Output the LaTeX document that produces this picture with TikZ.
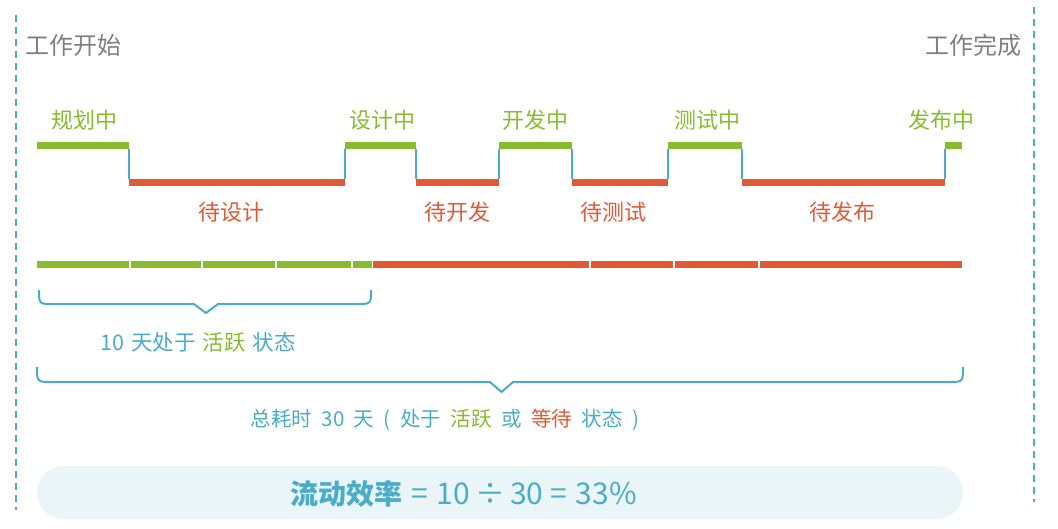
\documentclass[tikz,border=0pt]{standalone}
\usepackage{fontspec}
\setmainfont{Noto Sans CJK SC}
\definecolor{cgreen}{HTML}{86BC2E}
\definecolor{cred}{HTML}{E05A35}
\definecolor{cblue}{HTML}{4AACC8}
\definecolor{cgray}{HTML}{7F7F7F}
\definecolor{cpill}{HTML}{EAF5F8}
\newcommand\gp[1]{\hspace{#1pt}}
\tikzset{
  guide/.style={cblue, line width=2pt, dash pattern=on 7pt off 5pt},
  act/.style={cgreen, line width=7pt},
  wait/.style={cred, line width=7pt},
  edge/.style={cblue, line width=2pt},
  brace/.style={cblue, line width=2pt, line join=round},
  endlbl/.style={font=\fontsize{24}{24}\selectfont, text=cgray, inner sep=0pt},
  actlbl/.style={font=\fontsize{22}{22}\selectfont, text=cgreen, inner sep=0pt},
  waitlbl/.style={font=\fontsize{22}{22}\selectfont, text=cred, inner sep=0pt},
  note/.style={font=\fontsize{20.5}{20.5}\selectfont, text=cblue, inner sep=0pt},
  pill/.style={fill=cpill, rounded corners=26.5pt, minimum width=926pt, minimum height=53pt, inner sep=0pt},
}
\begin{document}
\begin{tikzpicture}[x=1pt,y=-1pt]
\useasboundingbox (0,0) rectangle (1058,528);
% guide lines
\coordinate (gl1) at (16,15); \coordinate (gl2) at (16,510);
\coordinate (gr1) at (1034,7); \coordinate (gr2) at (1034,502);
\draw[guide] (gl1) -- (gl2);
\draw[guide] (gr1) -- (gr2);
\node[endlbl, anchor=west] (start) at (25,45) {工作开始};
\node[endlbl, anchor=east] (finish) at (1022,45) {工作完成};
% signal
\foreach \n/\x in {a/37,b/129,c/345,d/416,e/499,f/572,g/668,h/742,i/945,j/962} {
  \coordinate (\n h) at (\x,145.5);
  \coordinate (\n l) at (\x,182);
}
\draw[act] (ah) -- (bh);
\draw[wait] (bl) -- (cl);
\draw[act] (ch) -- (dh);
\draw[wait] (dl) -- (el);
\draw[act] (eh) -- (fh);
\draw[wait] (fl) -- (gl);
\draw[act] (gh) -- (hh);
\draw[wait] (hl) -- (il);
\draw[act] (ih) -- (jh);
\foreach \n in {b,c,d,e,f,g,h,i} {
  \draw[edge] ([yshift=-3.5pt]\n h) -- ([yshift=3.5pt]\n l);
}
% labels
\node[actlbl] (s1) at (84,120) {规划中};
\node[actlbl] (s2) at (382,120) {设计中};
\node[actlbl] (s3) at (535,120) {开发中};
\node[actlbl] (s4) at (707,120) {测试中};
\node[actlbl] (s5) at (941,120) {发布中};
\node[waitlbl] (w1) at (231,212) {待设计};
\node[waitlbl] (w2) at (457,212) {待开发};
\node[waitlbl] (w3) at (613,212) {待测试};
\node[waitlbl] (w4) at (842,212) {待发布};
% day bar
\foreach \n/\xa/\xb in {d1/37/128.7,d2/130.7/200.7,d3/202.7/275,d4/277/351,d5/353/371.7} {
  \coordinate (\n a) at (\xa,264); \coordinate (\n b) at (\xb,264);
  \draw[act] (\n a) -- (\n b);
}
\foreach \n/\xa/\xb in {r1/373/589,r2/591/672.7,r3/674.7/758,r4/760/962} {
  \coordinate (\n a) at (\xa,264); \coordinate (\n b) at (\xb,264);
  \draw[wait] (\n a) -- (\n b);
}
% small brace
\draw[brace] (39,290) .. controls (39,304) .. (53,304) -- (194,304) -- (206,313) -- (218,304) -- (357,304) .. controls (371,304) .. (371,290);
\node[note, font=\fontsize{21.5}{21.5}\selectfont] (n1) at (198,342) {10\gp{7}天处于\gp{7}\textcolor{cgreen}{活跃}\gp{7}状态};
% big brace
\draw[brace] (37,367) .. controls (37,382) .. (52,382) -- (490,382) -- (501.5,392) -- (513,382) -- (948,382) .. controls (963,382) .. (963,367);
\node[note] (n2) at (445,420) {总耗时\gp{9.5}30\gp{9.5}天\gp{9.5}(\gp{9.5}处于\gp{9.5}\textcolor{cgreen}{活跃}\gp{9.5}或\gp{9.5}\textcolor{cred}{等待}\gp{9.5}状态\gp{9.5})};
% pill
\node[pill] (p) at (500,492.5) {};
\node[font=\fontsize{30}{30}\selectfont, text=cblue, inner sep=0pt] (f) at (463.5,494) {{\fontsize{28}{28}\selectfont\bfseries 流动效率}\gp{9}=\gp{9}10\gp{5}÷\gp{5}30\gp{7}=\gp{9}33\%};
\end{tikzpicture}
\end{document}
